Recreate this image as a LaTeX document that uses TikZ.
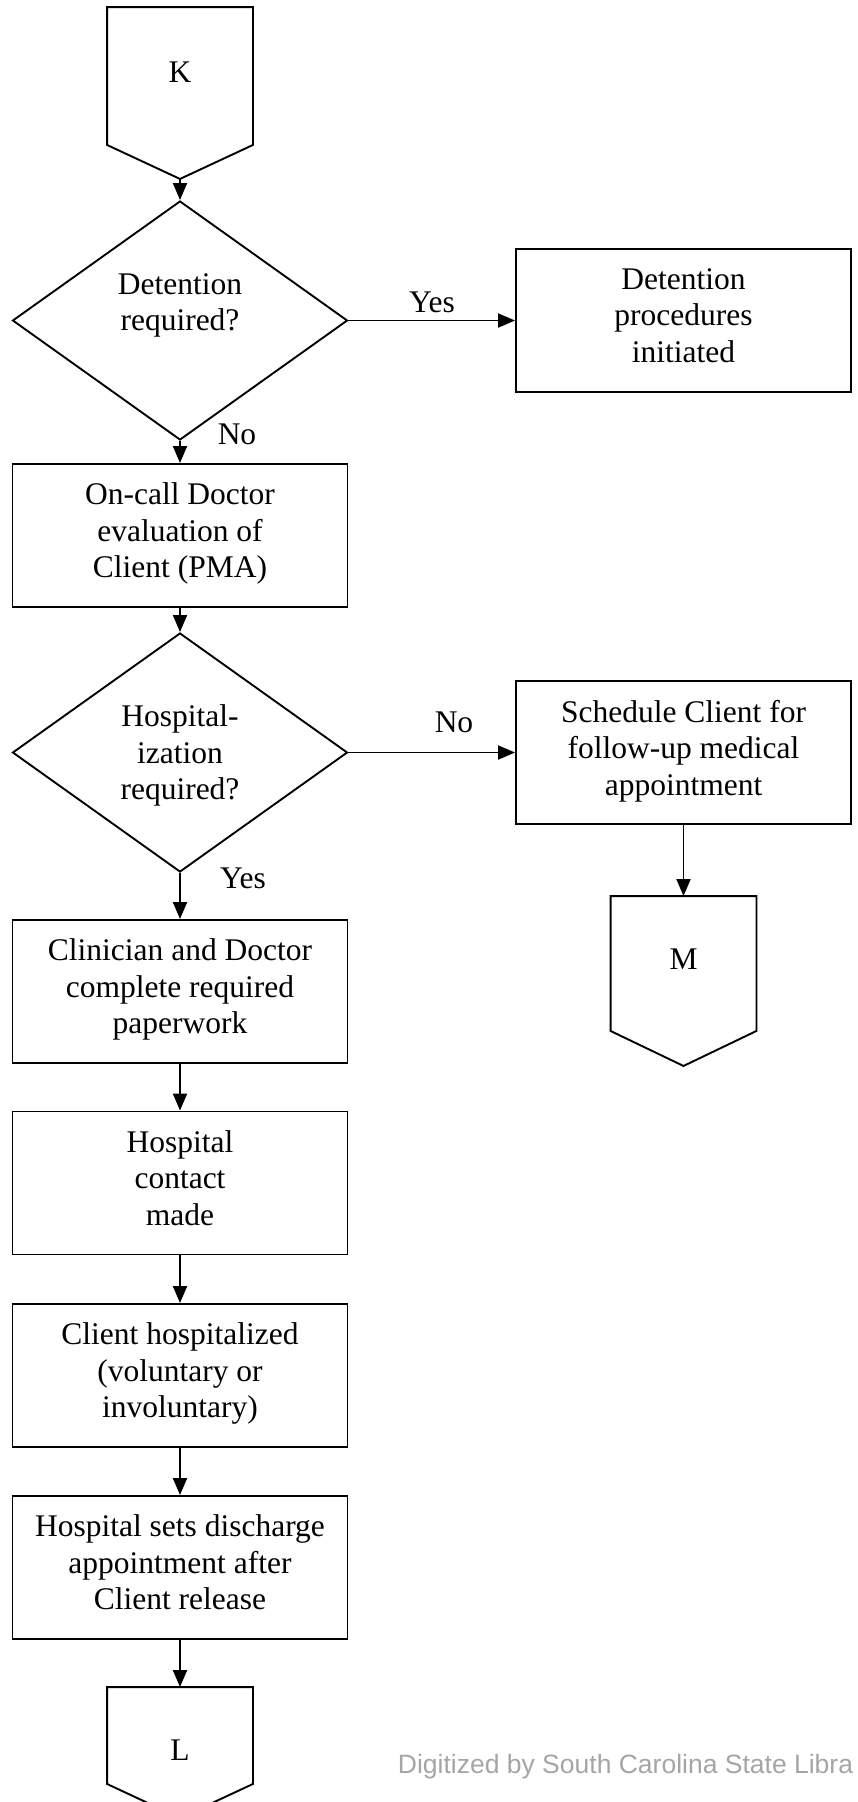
\documentclass[tikz,border=0pt]{standalone}
\usepackage{fontspec}
\setmainfont{Liberation Serif}
\newfontfamily\wmfont{Liberation Sans}
\usetikzlibrary{shapes.geometric, arrows.meta}
\definecolor{wmgray}{RGB}{165,165,165}

\begin{document}
\begin{tikzpicture}[x = 1pt, y = -1pt, line width = 1.9pt,
    font = \fontsize{31.5}{36.5}\selectfont,
    box/.style = {draw, minimum width = 335pt, minimum height = 143pt, align = center, inner sep = 0pt, text depth = 10pt},
    decision/.style = {draw, diamond, aspect = 1.4, minimum width = 335pt, minimum height = 239pt, inner sep = 0pt, align = center, text depth = 0pt},
    offpage/.style = {minimum width = 144pt, inner sep = 0pt, text depth = 8pt},
    arrow/.style = {-{Triangle[length = 17pt, width = 14pt]}},
    lbl/.style = {inner sep = 0pt}]
  \useasboundingbox (0, 0) rectangle (857, 1802);

  \node[offpage, minimum height = 136pt] (K) at (180, 76) {K};
  \coordinate (Ktip) at ([yshift = -34pt]K.south);
  \draw (K.north west) -- (K.north east) -- (K.south east) -- (Ktip) -- (K.south west) -- cycle;

  \node[decision] (det) at (180, 320.5) {};
  \node[lbl, align = center] (dettext) at (180, 305.5) {Detention\\required?};
  \node[box] (detproc) at (683.5, 320.5) {Detention\\procedures\\initiated};

  \node[box] (doctor) at (180, 535.5) {On-call Doctor\\evaluation of\\Client (PMA)};

  \node[decision] (hosp) at (180, 752.5) {Hospital-\\ization\\required?};
  \node[box] (sched) at (683.5, 752.5) {Schedule Client for\\follow-up medical\\appointment};

  \node[offpage, minimum height = 133pt] (M) at (683.5, 963.5) {M};
  \coordinate (Mtip) at ([yshift = -35pt]M.south);
  \draw (M.north west) -- (M.north east) -- (M.south east) -- (Mtip) -- (M.south west) -- cycle;

  \node[box] (paper) at (180, 991.5) {Clinician and Doctor\\complete required\\paperwork};
  \node[box] (contact) at (180, 1183) {Hospital\\contact\\made};
  \node[box] (client) at (180, 1375.5) {Client hospitalized\\(voluntary or\\involuntary)};
  \node[box] (release) at (180, 1567.5) {Hospital sets discharge\\appointment after\\Client release};

  \node[offpage, minimum height = 95pt] (L) at (180, 1735.5) {};
  \node[lbl] (Ltext) at (180, 1750) {L};
  \coordinate (Ltip) at ([yshift = -34pt]L.south);
  \draw (L.north west) -- (L.north east) -- (L.south east) -- (Ltip) -- (L.south west) -- cycle;

  \draw[arrow] (Ktip) -- (det.north);
  \draw[arrow] (det.east) -- (detproc.west);
  \draw[arrow] (det.south) -- (doctor.north);
  \draw[arrow] (doctor.south) -- (hosp.north);
  \draw[arrow] (hosp.east) -- (sched.west);
  \draw[arrow] (sched.south) -- (M.north);
  \draw[arrow] (hosp.south) -- (paper.north);
  \draw[arrow] (paper.south) -- (contact.north);
  \draw[arrow] (contact.south) -- (client.north);
  \draw[arrow] (client.south) -- (release.north);
  \draw[arrow] (release.south) -- (L.north);

  \node[lbl] (yes1) at (432, 302) {Yes};
  \node[lbl] (no1) at (237, 434) {No};
  \node[lbl] (no2) at (454, 722) {No};
  \node[lbl] (yes2) at (243, 878) {Yes};

  \node[lbl, anchor = west, text = wmgray, font = \wmfont\fontsize{26.5}{30}\selectfont] (wm) at (397, 1767) {Digitized by South Carolina State Libra};
\end{tikzpicture}
\end{document}
